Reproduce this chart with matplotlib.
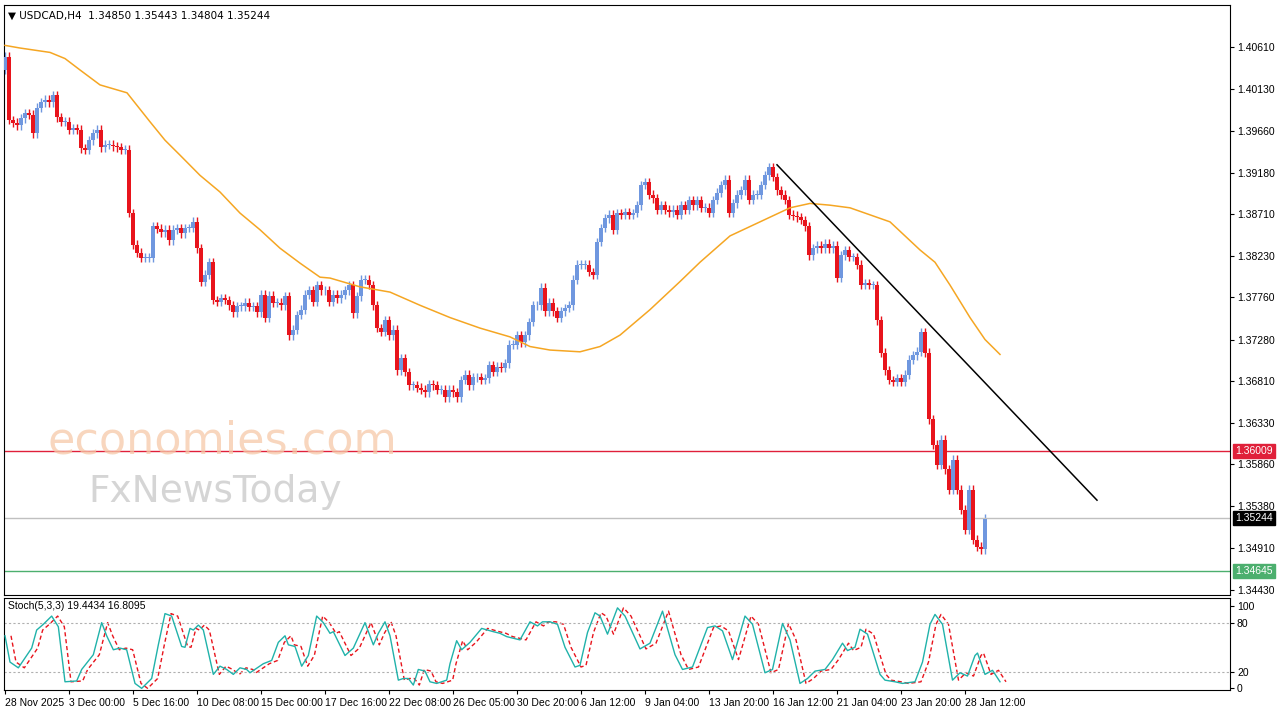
import matplotlib
matplotlib.use("Agg")
import matplotlib.pyplot as plt
import numpy as np

plt.rcParams['font.family'] = ['Liberation Sans', 'DejaVu Sans']

first_open = 1.4035
closes = [
1.4050, 1.3978, 1.3975, 1.3972, 1.3980, 1.3986, 1.3984, 1.3963, 1.3992, 1.3998, 1.4001, 1.3998, 1.4006, 1.3981, 1.3976, 1.3976,
1.3967, 1.3969, 1.3967, 1.3946, 1.3944, 1.3955, 1.3963, 1.3967, 1.3947, 1.3950, 1.3950, 1.3948, 1.3947, 1.3944, 1.3944, 1.3872,
1.3836, 1.3827, 1.3821, 1.3821, 1.3821, 1.3857, 1.3854, 1.3850, 1.3853, 1.3841, 1.3853, 1.3855, 1.3849, 1.3855, 1.3855, 1.3862,
1.3832, 1.3794, 1.3802, 1.3816, 1.3773, 1.3771, 1.3775, 1.3773, 1.3767, 1.3759, 1.3766, 1.3766,
1.3770, 1.3765, 1.3766, 1.3759, 1.3779, 1.3753, 1.3778, 1.3770, 1.3770, 1.3767, 1.3777, 1.3733, 1.3739, 1.3756, 1.3762, 1.3779,
1.3784, 1.3771, 1.3790, 1.3784, 1.3784, 1.3771, 1.3779, 1.3775, 1.3779, 1.3784, 1.3790, 1.3758, 1.3777, 1.3796, 1.3796, 1.3790,
1.3767, 1.3741, 1.3737, 1.3750, 1.3733, 1.3739, 1.3693, 1.3707, 1.3691, 1.3676, 1.3676, 1.3673, 1.3671, 1.3668, 1.3677, 1.3676,
1.3671, 1.3671, 1.3662, 1.3671, 1.3668, 1.3662, 1.3682, 1.3688, 1.3676, 1.3685, 1.3685, 1.3682, 1.3684, 1.3699, 1.3691, 1.3697,
1.3696, 1.3701, 1.3722, 1.3722, 1.3733,
1.3725, 1.3733, 1.3748, 1.3767, 1.3767, 1.3787, 1.3760, 1.3770, 1.3760, 1.3753, 1.3760, 1.3764, 1.3767, 1.3796, 1.3813, 1.3813,
1.3813, 1.3805, 1.3802, 1.3839, 1.3855, 1.3866, 1.3870, 1.3853, 1.3872, 1.3870, 1.3873, 1.3870, 1.3872, 1.3881, 1.3904, 1.3907,
1.3893, 1.3889, 1.3876, 1.3881, 1.3876, 1.3873, 1.3876, 1.3870, 1.3881, 1.3876, 1.3887, 1.3881, 1.3887, 1.3878, 1.3878, 1.3872,
1.3887, 1.3895, 1.3904, 1.3910, 1.3872, 1.3883, 1.3893, 1.3898, 1.3910, 1.3887, 1.3893, 1.3893, 1.3904, 1.3915, 1.3924,
1.3913, 1.3898, 1.3893, 1.3887, 1.3870, 1.3869, 1.3867, 1.3864, 1.3857, 1.3824, 1.3832, 1.3835, 1.3832, 1.3837, 1.3832, 1.3835,
1.3798, 1.3824, 1.3830, 1.3822, 1.3822, 1.3813, 1.3790, 1.3792, 1.3790, 1.3790, 1.3750, 1.3713, 1.3693, 1.3682, 1.3680, 1.3684,
1.3680, 1.3688, 1.3705, 1.3710, 1.3714, 1.3736, 1.3713, 1.3637, 1.3608, 1.3585, 1.3614, 1.3580, 1.3557, 1.3591, 1.3557, 1.3534,
1.3511, 1.3557, 1.3500, 1.3492, 1.3489, 1.3524]

ma_idx = [0, 3.75, 11.25, 15, 18.75, 23.75, 30.5, 36.25, 40, 43.75, 48.75, 53.75, 58.75, 63.75, 68.75, 73.75, 78.75, 81.25,
          88.75, 96.25, 103.75, 111.25, 118.75, 126.25, 131.25, 136.25, 143.75, 148.75, 153.75, 161.25, 168.75, 173.75,
          181.25, 188.75, 196.25, 201.25, 206.25, 211.25, 216.25, 221.25, 228.75, 232.5, 236.25, 241.25, 245, 248.75]
ma_val = [1.4063, 1.4060, 1.4055, 1.4048, 1.4035, 1.4018, 1.4009, 1.3976, 1.3955, 1.3938, 1.3915, 1.3896, 1.3872, 1.3853,
          1.3832, 1.3815, 1.3799, 1.3798, 1.3788, 1.3782, 1.3767, 1.3753, 1.3741, 1.3731, 1.3720, 1.3716, 1.3714, 1.3720,
          1.3733, 1.3762, 1.3794, 1.3816, 1.3846, 1.3862, 1.3878, 1.3883, 1.3881, 1.3878, 1.3870, 1.3862, 1.3830, 1.3816,
          1.3790, 1.3753, 1.3728, 1.3711]

trend_idx = [193, 273]
trend_val = [1.3927, 1.3545]

level_red = 1.36009
level_last = 1.35244
level_green = 1.34645

price_ticks = [1.40610, 1.40130, 1.39660, 1.39180, 1.38710, 1.38230, 1.37760, 1.37280, 1.36810, 1.36330,
               1.35860, 1.35380, 1.34910, 1.34430]

stoch_zx1 = [15, 30, 55, 70, 95, 110, 130, 155, 175, 195, 230, 245, 280, 305, 320, 340, 360, 380, 405, 425, 455, 475, 495,
             515, 545, 555, 570, 580, 595, 610, 640, 660, 680, 700, 720, 740, 750, 790, 815, 835, 855, 865, 885, 905, 925,
             950, 970, 990, 1000, 1035, 1060, 1095, 1120, 1135, 1155, 1170, 1195, 1210, 1225, 1240, 1255, 1275, 1290, 1310,
             1340, 1350, 1370, 1385, 1410, 1445, 1480, 1500, 1520]
stoch_k1 = [64, 32, 25, 34, 49, 71, 78, 88, 75, 8, 9, 23, 41, 80, 64, 47, 49, 47, 6, 0, 12, 53, 91, 88, 51, 50, 73, 71, 77,
            71, 17, 27, 23, 17, 25, 23, 19, 30, 34, 56, 64, 53, 51, 27, 40, 88, 80, 67, 69, 40, 49, 80, 53, 67, 81, 64, 10,
            12, 12, 4, 23, 21, 8, 6, 10, 30, 58, 47, 56, 73, 69, 67, 63]
stoch_zx2 = [40, 60, 75, 85, 100, 115, 130, 150, 160, 175, 190, 200, 215, 235, 250, 265, 280, 300, 325, 350, 365, 385, 415,
             430, 445, 465, 490, 505, 530, 545, 565, 580, 600, 615, 630, 650, 665, 685, 695, 710, 720, 735, 760, 770, 790,
             805, 830, 845, 860, 870, 885, 905, 920, 935, 950, 955, 970, 985, 1000]
stoch_k2 = [59, 81, 76, 81, 81, 78, 50, 26, 28, 68, 92, 88, 66, 98, 88, 68, 48, 55, 94, 41, 23, 26, 74, 76, 70, 35, 88, 78,
            19, 23, 79, 59, 6, 12, 21, 23, 35, 55, 46, 50, 72, 66, 17, 10, 8, 6, 8, 32, 78, 90, 78, 10, 19, 15, 40, 43, 17,
            22, 8]

date_labels = ["28 Nov 2025", "3 Dec 00:00", "5 Dec 16:00", "10 Dec 08:00", "15 Dec 00:00", "17 Dec 16:00",
               "22 Dec 08:00", "26 Dec 05:00", "30 Dec 20:00", "6 Jan 12:00", "9 Jan 04:00", "13 Jan 20:00",
               "16 Jan 12:00", "21 Jan 04:00", "23 Jan 20:00", "28 Jan 12:00"]

BLUE = "#6f97df"
RED = "#e8141c"

fig = plt.figure(figsize=(12.8, 7.2), dpi=100)
fig.patch.set_facecolor("white")
W, H = 1280, 720
L, R = 4 / W, 1230 / W
ax = fig.add_axes([L, 1 - 595 / H, R - L, 590 / H])
ax2 = fig.add_axes([L, 1 - 690 / H, R - L, 92 / H])

xlim = (-0.25, 306.25)
n = len(closes)
opens = [first_open] + closes[:-1]
wick = 0.0005
for i in range(n):
    o, c = opens[i], closes[i]
    col = BLUE if c >= o else RED
    ax.vlines(i, min(o, c) - wick, max(o, c) + wick, color=col, lw=1, zorder=2)
    h = abs(c - o)
    if h < 0.00008:
        h = 0.00008
    ax.bar(i, h, bottom=min(o, c), width=0.85, color=col, zorder=3, linewidth=0)

ax.plot(ma_idx, ma_val, color="#f5a623", lw=1.1, zorder=4)
ax.plot(trend_idx, trend_val, color="black", lw=1.1, zorder=5)
ax.axhline(level_red, color="#e0203a", lw=1)
ax.axhline(level_last, color="#c0c0c0", lw=1)
ax.axhline(level_green, color="#4caf6e", lw=1)

ax.set_xlim(*xlim)
ax.set_ylim(1.3437, 1.4109)
ax.yaxis.tick_right()
ax.set_yticks(price_ticks)
ax.set_yticklabels([f"{p:.5f}" for p in price_ticks], fontsize=7.5)
ax.tick_params(axis="y", length=3, pad=2)
ax.set_xticks([])
for s in ax.spines.values():
    s.set_linewidth(0.8)

def box(axx, y, txt, fc, tc):
    axx.annotate(txt, xy=(1.0, y), xycoords=("axes fraction", "data"), xytext=(4, 0),
                 textcoords="offset points", va="center", ha="left", fontsize=7.5, color=tc,
                 bbox=dict(boxstyle="square,pad=0.2", fc=fc, ec=fc), zorder=10, annotation_clip=False)

box(ax, level_red, "1.36009", "#e0203a", "white")
box(ax, level_last, "1.35244", "black", "white")
box(ax, level_green, "1.34645", "#4caf6e", "white")

ax.text(0.003, 0.99, "\u25bc USDCAD,H4  1.34850 1.35443 1.34804 1.35244", transform=ax.transAxes,
        fontsize=7.5, va="top", ha="left", family=['DejaVu Sans'])
fig.text(48 / W, 1 - 441 / H, "economies.com", fontsize=32, color="#f6c9a8", alpha=0.75, va="center", ha="left",
         family=['DejaVu Sans'])
fig.text(88 / W, 1 - 492 / H, "FxNewsToday", fontsize=27, color="#c8c8c8", alpha=0.75, va="center", ha="left",
         family=['DejaVu Sans'])

# stochastic
xi1 = [(z / 3 - 5) / 4 for z in stoch_zx1]
xi2 = [(500 + z / 2 - 5) / 4 for z in stoch_zx2]
kx = xi1 + xi2
kv = stoch_k1 + stoch_k2
ax2.plot(kx, kv, color="#20b2aa", lw=1, zorder=3)
ax2.plot([v + 1.5 for v in kx], kv, color="#e8141c", lw=1, ls=(0, (3, 2)), zorder=2)
ax2.axhline(80, color="#b0b0b0", lw=0.8, ls=(0, (2, 2)))
ax2.axhline(20, color="#b0b0b0", lw=0.8, ls=(0, (2, 2)))
ax2.set_xlim(*xlim)
ax2.set_ylim(-2, 110)
ax2.yaxis.tick_right()
ax2.set_yticks([100, 80, 20, 0])
ax2.set_yticklabels(["100", "80", "20", "0"], fontsize=7.5)
ax2.tick_params(axis="y", length=3, pad=2)
ax2.set_xticks([i * 16 for i in range(len(date_labels))])
ax2.set_xticklabels(date_labels, fontsize=7.5, ha="left")
ax2.tick_params(axis="x", length=3, pad=3)
ax2.text(0.003, 0.97, "Stoch(5,3,3) 19.4434 16.8095", transform=ax2.transAxes, fontsize=7.5, va="top", ha="left")
for s in ax2.spines.values():
    s.set_linewidth(0.8)

fig.savefig("out.png", dpi=100)
